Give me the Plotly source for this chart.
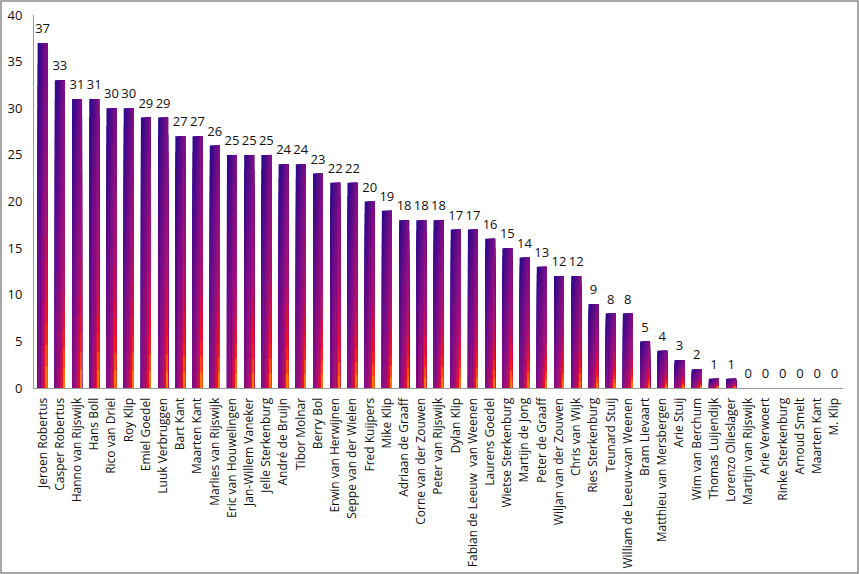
import plotly.graph_objects as go

# doelpunten per speler
spelers = [
    "Jeroen Robertus", "Casper Robertus", "Hanno van Rijswijk", "Hans Boll",
    "Rico van Driel", "Roy Klip", "Emiel Goedel", "Luuk Verbruggen", "Bart Kant",
    "Maarten Kant", "Marlies van Rijswijk", "Eric van Houwelingen",
    "Jan-Willem Vaneker", "Jelle Sterkenburg", "André de Bruijn", "Tibor Molnar",
    "Berry Bol", "Erwin van Herwijnen", "Seppe van der Wielen", "Fred Kuijpers",
    "Mike Klip", "Adriaan de Graaff", "Corne van der Zouwen", "Peter van Rijswijk",
    "Dylan Klip", "Fabian de Leeuw  van Weenen", "Laurens Goedel",
    "Wietse Sterkenburg", "Martijn de Jong", "Peter de Graaff",
    "Wiljan van der Zouwen", "Chris van Wijk", "Ries Sterkenburg", "Teunard Stuij",
    "William de Leeuw-van Weenen", "Bram Lievaart", "Matthieu van Mersbergen",
    "Arie Stuij", "Wim van Berchum", "Thomas Luijendijk", "Lorenzo Olieslager",
    "Martijn van Rijswijk", "Arie Verwoert", "Rinke Sterkenburg", "Arnoud Smelt",
    "Maarten Kant", "M. Klip",
]
goals = [37, 33, 31, 31, 30, 30, 29, 29, 27, 27, 26, 25, 25, 25, 24, 24, 23, 22,
         22, 20, 19, 18, 18, 18, 17, 17, 16, 15, 14, 13, 12, 12, 9, 8, 8, 5, 4, 3,
         2, 1, 1, 0, 0, 0, 0, 0, 0]
y_ticks = [0, 5, 10, 15, 20, 25, 30, 35, 40]

xs = list(range(len(spelers)))

# verloop in de staven nabootsen: strookjes over elkaar heen (geen naden)
BAR_W = 0.58
N_U = 6
N_V = 16

# diagonaal verloop: linksboven donkerblauw -> rechtsonder rood/geel
stops = [(0.0, (36, 8, 140)), (0.48, (126, 14, 134)), (0.72, (170, 16, 115)),
         (0.87, (245, 18, 30)), (1.0, (255, 195, 0))]


def kleur(u, v):
    t = (u + v) / 2
    for (t0, c0), (t1, c1) in zip(stops[:-1], stops[1:]):
        if t <= t1:
            f = (t - t0) / (t1 - t0)
            c = [c0[k] + (c1[k] - c0[k]) * f for k in range(3)]
            return "rgb(%d,%d,%d)" % tuple(int(round(x)) for x in c)
    return "rgb(%d,%d,%d)" % stops[-1][1]


fig = go.Figure()
for i in range(N_U):
    u = (i + 0.5) / N_U
    for j in range(N_V):
        v = (j + 0.5) / N_V
        frac = 1 - j / N_V
        fig.add_trace(go.Bar(
            x=xs,
            y=[g * frac for g in goals],
            width=BAR_W * (N_U - i) / N_U,
            offset=-BAR_W / 2 + i * BAR_W / N_U,
            marker=dict(color=kleur(u, v), line=dict(width=0)),
            hoverinfo="skip",
            showlegend=False,
        ))

fig.add_trace(go.Scatter(
    x=xs, y=goals, mode="markers+text", text=[str(g) for g in goals],
    marker=dict(size=9, opacity=0),
    textposition="top center", textfont=dict(size=13, color="#111"),
    showlegend=False, cliponaxis=False, hoverinfo="skip",
))

L, R, T, B = 34, 16, 15, 186
W, H = 859, 574
pw, ph = W - L - R, H - T - B

fig.update_layout(
    template="none",
    width=W, height=H,
    margin=dict(l=L, r=R, t=T, b=B, pad=0),
    barmode="overlay",
    paper_bgcolor="white", plot_bgcolor="white",
    font=dict(family="Open Sans", size=12, color="#111"),
    xaxis=dict(
        range=[-0.5, len(spelers) - 0.5], tickvals=xs, ticktext=spelers,
        tickangle=-90, showgrid=False, zeroline=False, showline=True,
        linecolor="#9a9a9a", linewidth=1, ticks="", ticklabelstandoff=4,
        tickfont=dict(size=12), automargin=False,
    ),
    yaxis=dict(
        range=[0, 40], tickvals=y_ticks, showgrid=False, zeroline=False,
        showline=True, linecolor="#9a9a9a", linewidth=1, ticks="",
        ticklabelstandoff=8, tickfont=dict(size=13), automargin=False,
    ),
    shapes=[dict(
        type="rect", xref="paper", yref="paper",
        x0=-(L - 1) / pw, x1=1 + (R - 1) / pw,
        y0=-(B - 1) / ph, y1=1 + (T - 1) / ph,
        line=dict(color="#8a8a8a", width=1.5),
    )],
)

fig.write_html("out.html", config={"displayModeBar": False},
               post_script="document.body.style.margin = '0';")
